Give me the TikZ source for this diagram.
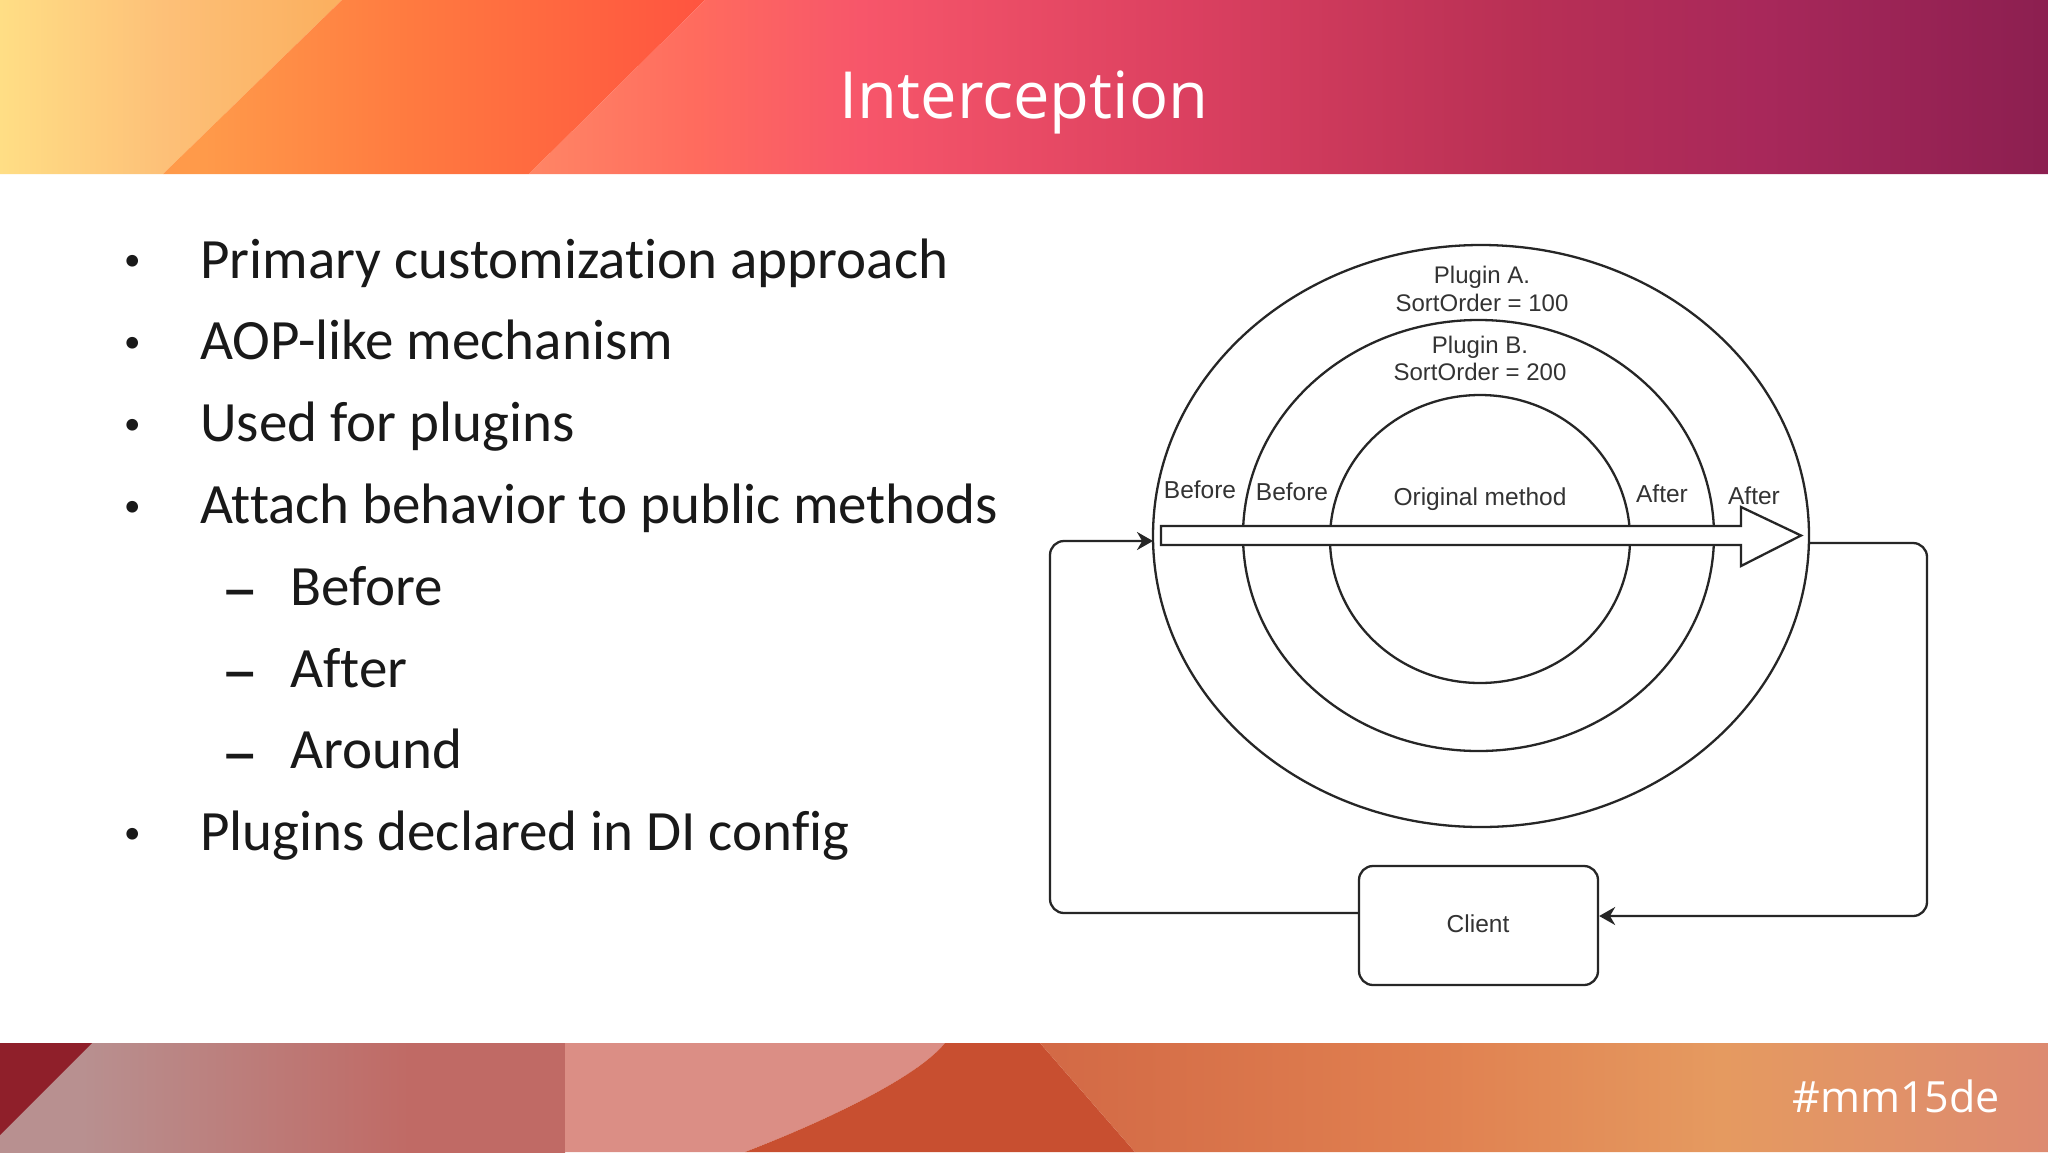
\documentclass[tikz,border=0pt]{standalone}
\usepackage{fontspec}
\setmainfont{Carlito}[Ligatures=NoCommon]
\newfontfamily\ttlfont{Open Sans}
\newfontfamily\dgmfont{Liberation Sans}
\usetikzlibrary{arrows.meta}
\definecolor{h0}{HTML}{FFDE85}\definecolor{h1}{HTML}{FDC078}\definecolor{h2}{HTML}{FBB060}
\definecolor{h3}{HTML}{FF9A4A}\definecolor{h4}{HTML}{FF7A40}\definecolor{h5}{HTML}{FF5540}
\definecolor{h6}{HTML}{FF8565}\definecolor{h7}{HTML}{FF6B5E}\definecolor{h8}{HTML}{F7566A}
\definecolor{h9}{HTML}{DB4060}\definecolor{h10}{HTML}{B93055}\definecolor{h11}{HTML}{A8285A}\definecolor{h12}{HTML}{8C1F50}
\definecolor{f0}{HTML}{8F1F2A}\definecolor{f1}{HTML}{B89090}\definecolor{f2}{HTML}{C06A65}
\definecolor{f3}{HTML}{DB8E85}\definecolor{f4}{HTML}{C84F30}\definecolor{f5}{HTML}{D26845}\definecolor{f6}{HTML}{E08050}\definecolor{f7}{HTML}{E59A60}\definecolor{f8}{HTML}{DD8A70}
\pgfdeclarehorizontalshading{hdrone}{100bp}{color(0bp)=(h0);color(25bp)=(h0);color(29bp)=(h1);color(33bp)=(h2);color(100bp)=(h2)}
\pgfdeclarehorizontalshading{hdrtwo}{100bp}{color(0bp)=(h3);color(30bp)=(h3);color(35bp)=(h4);color(42bp)=(h5);color(100bp)=(h5)}
\pgfdeclarehorizontalshading{hdrthree}{100bp}{color(0bp)=(h6);color(38bp)=(h6);color(42bp)=(h7);color(46bp)=(h8);color(54bp)=(h9);color(62bp)=(h10);color(68bp)=(h11);color(75bp)=(h12);color(100bp)=(h12)}
\pgfdeclarehorizontalshading{ftrtwo}{100bp}{color(0bp)=(f1);color(27bp)=(f1);color(35bp)=(f2);color(100bp)=(f2)}
\pgfdeclarehorizontalshading{ftrfive}{100bp}{color(0bp)=(f5);color(50bp)=(f5);color(60bp)=(f6);color(67bp)=(f7);color(75bp)=(f8);color(100bp)=(f8)}
\tikzset{
 x=1pt,y=-1pt,
 ln/.style={line width=2.3pt,draw=black!85},
 conn/.style={ln,rounded corners=14pt,-{Stealth[length=16pt,width=18pt]}},
 dg/.style={font=\dgmfont\fontsize{24.5}{28}\selectfont,text=black!80,align=center,inner sep=0pt},
 bul/.style={font=\fontsize{57}{60}\selectfont,text=black!90,anchor=base west,inner sep=0pt},
 dot/.style={font=\fontsize{33}{40}\selectfont,text=black!90,anchor=base west,inner sep=0pt},
 dsh/.style={font=\fontsize{75}{80}\selectfont,text=black!90,anchor=base west,inner sep=0pt},
}
\begin{document}
\begin{tikzpicture}
\useasboundingbox (0,0) rectangle (2048,1152);
\fill[white] (0,0) rectangle (2048,1152);
% header
\begin{scope}\clip (0,0)--(342,0)--(163,174)--(0,174)--cycle;
 \shade[shading=hdrone] (0,0) rectangle (2048,174);\end{scope}
\begin{scope}\clip (342,0)--(705,0)--(529,174)--(163,174)--cycle;
 \shade[shading=hdrtwo] (0,0) rectangle (2048,174);\end{scope}
\begin{scope}\clip (705,0)--(2048,0)--(2048,174)--(529,174)--cycle;
 \shade[shading=hdrthree] (0,0) rectangle (2048,174);\end{scope}
% footer
\begin{scope}\clip (0,1043) rectangle (565,1152);
 \shade[shading=ftrtwo] (0,1043) rectangle (2048,1152);\end{scope}
\fill[f0] (0,1043)--(92,1043)--(0,1135)--cycle;
\fill[f3] (565,1043)--(945,1043) .. controls (915,1080) and (815,1125) .. (745,1152)--(565,1152)--cycle;
\fill[f4] (945,1043)--(1040,1043)--(1135,1152)--(745,1152) .. controls (815,1125) and (915,1080) .. (945,1043)--cycle;
\begin{scope}\clip (1040,1043)--(2048,1043)--(2048,1152)--(1135,1152)--cycle;
 \shade[shading=ftrfive] (0,1043) rectangle (2048,1152);\end{scope}
% texts
\node[font=\ttlfont\fontsize{65}{80}\selectfont,text=white,inner sep=0pt,anchor=base] (title) at (1024,118) {Interception};
\node[font=\ttlfont\fontsize{43}{50}\selectfont,text=white,inner sep=0pt,anchor=base east] (tag) at (2000,1112) {\#mm15de};
\node[bul] (b1) at (200,278) {Primary customization approach};
\node[bul] (b2) at (200,359.8) {AOP-like mechanism};
\node[bul] (b3) at (200,441.6) {Used for plugins};
\node[bul] (b4) at (200,523.4) {Attach behavior to public methods};
\node[bul] (b5) at (290,605.2) {Before};
\node[bul] (b6) at (290,687) {After};
\node[bul] (b7) at (290,768.8) {Around};
\node[bul] (b8) at (200,850.6) {Plugins declared in DI config};
\foreach \yy/\nm in {270.5/a,352/b,434/c,516/d,843/e}
 \node[dot] (m\nm) at (124,\yy) {•};
\foreach \yy/\nm in {613/f,695/g,777/h}
 \node[dsh] (m\nm) at (221,\yy) {–};
% diagram
\draw[ln] (1481,536) ellipse [x radius=328,y radius=291];
\draw[ln] (1478.5,535.5) ellipse [x radius=235.5,y radius=215.5];
\draw[ln] (1480,539) ellipse [x radius=150,y radius=144];
\node[draw=black!85,line width=2.3pt,rounded corners=14pt,minimum width=239pt,minimum height=119pt,inner sep=0pt] (client) at (1478.5,925.5) {};
\node[dg] (clientl) at (1478,924) {Client};
\node[dg,font=\dgmfont\fontsize{24}{27.5}\selectfont] (pa) at (1482,289) {Plugin A.\\SortOrder = 100};
\node[dg,font=\dgmfont\fontsize{24}{27.5}\selectfont] (pb) at (1480,358.5) {Plugin B.\\SortOrder = 200};
\node[dg] (bf1) at (1200,490) {Before};
\node[dg] (bf2) at (1292,492) {Before};
\node[dg] (orig) at (1480,499) {Original method};
\node[dg] (af1) at (1662,494) {After};
\node[dg] (af2) at (1754,496) {After};
\draw[ln,fill=white,line join=miter] (1161,526)--(1741,526)--(1741,507)--(1801,535.5)--(1741,566)--(1741,545)--(1161,545)--cycle;
\coordinate (inL) at (1153,541);
\coordinate (outR) at (1809,543);
\draw[conn] (client.west |- 0,913) -- (1050,913) -- (1050,541) -- (inL);
\draw[conn] (outR) -- (1927,543) -- (1927,916) -- (client.east |- 0,916);
\end{tikzpicture}
\end{document}
